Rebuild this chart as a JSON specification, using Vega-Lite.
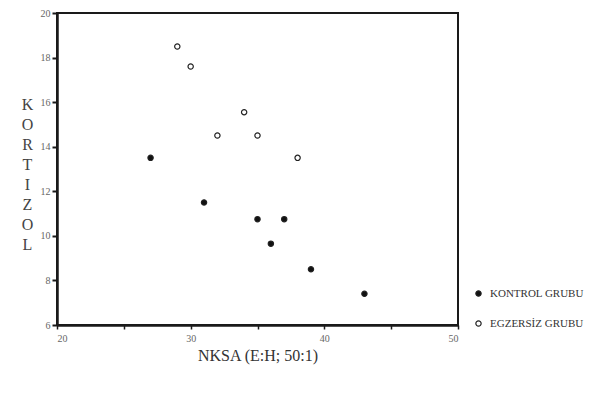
{
  "$schema": "https://vega.github.io/schema/vega-lite/v6.json",
  "width": 401,
  "height": 312,
  "autosize": {"type": "none"},
  "padding": {"left": 57, "top": 13, "right": 147, "bottom": 69},
  "background": "white",
  "config": {
    "view": {"stroke": "#1a1a1a", "strokeWidth": 2},
    "font": "Liberation Serif"
  },
  "data": {
    "values": [
      {"nksa": 27, "kortizol": 13.5, "grup": "KONTROL GRUBU"},
      {"nksa": 31, "kortizol": 11.5, "grup": "KONTROL GRUBU"},
      {"nksa": 35, "kortizol": 10.75, "grup": "KONTROL GRUBU"},
      {"nksa": 37, "kortizol": 10.75, "grup": "KONTROL GRUBU"},
      {"nksa": 36, "kortizol": 9.65, "grup": "KONTROL GRUBU"},
      {"nksa": 39, "kortizol": 8.5, "grup": "KONTROL GRUBU"},
      {"nksa": 43, "kortizol": 7.4, "grup": "KONTROL GRUBU"},
      {"nksa": 29, "kortizol": 18.5, "grup": "EGZERSİZ GRUBU"},
      {"nksa": 30, "kortizol": 17.6, "grup": "EGZERSİZ GRUBU"},
      {"nksa": 34, "kortizol": 15.55, "grup": "EGZERSİZ GRUBU"},
      {"nksa": 32, "kortizol": 14.5, "grup": "EGZERSİZ GRUBU"},
      {"nksa": 35, "kortizol": 14.5, "grup": "EGZERSİZ GRUBU"},
      {"nksa": 38, "kortizol": 13.5, "grup": "EGZERSİZ GRUBU"}
    ]
  },
  "mark": {"type": "point", "filled": true, "stroke": "#222", "strokeWidth": 1.2, "size": 28, "opacity": 1},
  "encoding": {
    "x": {
      "field": "nksa", "type": "quantitative",
      "scale": {"domain": [20, 50], "nice": false, "zero": false},
      "axis": {
        "values": [20, 25, 30, 35, 40, 45, 50],
        "labelExpr": "datum.value % 10 === 0 ? datum.label : ''",
        "grid": false, "domainColor": "#1a1a1a", "domainWidth": 2.5,
        "tickColor": "#1a1a1a", "tickWidth": 1.5, "tickSize": 4,
        "labelFontSize": 10, "labelColor": "#666", "labelPadding": 4,
        "title": "NKSA (E:H; 50:1)", "titleFontSize": 16, "titleFontWeight": "normal",
        "titleColor": "#333", "titlePadding": 4
      }
    },
    "y": {
      "field": "kortizol", "type": "quantitative",
      "scale": {"domain": [6, 20], "nice": false, "zero": false},
      "axis": {
        "values": [6, 8, 10, 12, 14, 16, 18, 20],
        "grid": false, "domainColor": "#1a1a1a", "domainWidth": 2.5,
        "tickColor": "#1a1a1a", "tickWidth": 2, "tickSize": 5,
        "labelFontSize": 10, "labelColor": "#666", "labelPadding": 2,
        "title": ["K", "O", "R", "T", "I", "Z", "O", "L"],
        "titleAngle": 0, "titleFontSize": 16, "titleFontWeight": "normal",
        "titleColor": "#444", "titleLineHeight": 20, "titleX": -30, "titleY": 83,
        "titleAlign": "center", "titleBaseline": "top"
      }
    },
    "fill": {
      "field": "grup", "type": "nominal",
      "scale": {"domain": ["KONTROL GRUBU", "EGZERSİZ GRUBU"], "range": ["#111", "white"]},
      "legend": {
        "title": null, "orient": "none", "legendX": 416, "legendY": 275,
        "symbolType": "circle", "symbolSize": 28, "symbolStrokeColor": "#222", "symbolStrokeWidth": 1.2,
        "labelFontSize": 11, "labelColor": "#333", "rowPadding": 18, "labelOffset": 6
      }
    }
  }
}
